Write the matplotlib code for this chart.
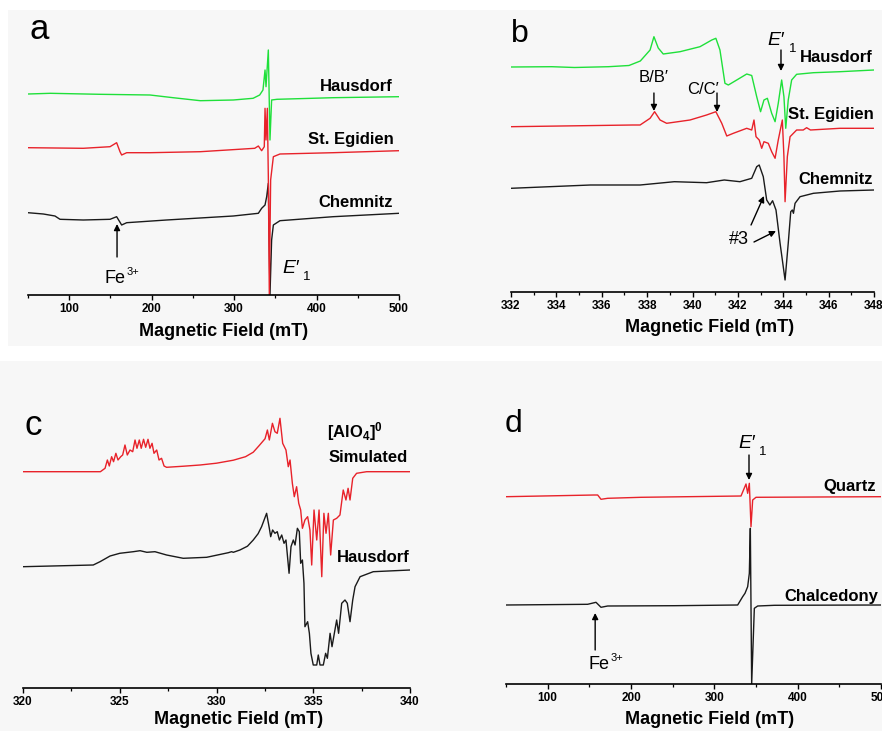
import matplotlib
matplotlib.use("Agg")
import matplotlib.pyplot as plt
from matplotlib.patches import Rectangle
import numpy as np

plt.rcParams['font.family'] = ['Liberation Sans', 'DejaVu Sans']
plt.rcParams['mathtext.fontset'] = 'custom'
plt.rcParams['mathtext.rm'] = 'Liberation Sans'
plt.rcParams['mathtext.it'] = 'Liberation Sans:italic'
plt.rcParams['mathtext.bf'] = 'Liberation Sans:bold'

# ---------------- data (field in mT, intensity in arbitrary units) ----------------
# panel a
a_haus_B = [50, 77, 137, 198, 226, 259, 299, 323, 331, 335, 337.5, 338.7, 341.5, 343.5, 345.5, 352, 420, 500]
a_haus_I = [0, 0.7, -0.3, -1, -3.7, -6.7, -6, -4.3, -1, 4, 24, 7.3, 44, -46, -6, -5.3, -3.7, -2.7]
a_egid_B = [50, 117, 149.5, 157.5, 161.6, 163.6, 169.7, 198, 259, 325, 329.4, 333.4, 336.6, 337.5, 338.7,
            340.3, 341.5, 342.7, 344.3, 347.6, 355.6, 420, 500]
a_egid_I = [0.3, -0.3, 1.3, 5.3, -3.7, -7, -4.7, -4.7, -3.7, -0.3, 2, -2.7, 1.3, 39.7, 8,
            39.7, -28.7, -147, -32, -8.7, -6, -4.7, -2.7]
a_chem_B = [50, 68.6, 82.7, 88.8, 117, 149.5, 157.5, 163.6, 169.7, 218, 299, 329.4, 333.4, 337.5, 339.5,
            341.5, 343.5, 345.5, 347.6, 355.6, 420, 500]
a_chem_I = [0.3, -1, -3, -6.3, -7, -6.3, -3.7, -12, -9.7, -7, -3, -0.3, 4.7, 8, 16.3,
            29.7, -82, -27, -12, -7.7, -3.7, -0.3]

# panel b
b_haus_B = [332, 333.8, 334.8, 336.3, 337.2, 337.7, 338.13, 338.3, 338.49, 338.71, 339.45, 340.33, 340.85,
            341.03, 341.21, 341.43, 341.58, 341.95, 342.39, 342.61, 342.83, 343.0, 343.15, 343.3, 343.49,
            343.64, 343.78, 343.93, 344.03, 344.11, 344.22, 344.37, 344.59, 345.33, 346.5, 348]
b_haus_I = [0, 0.3, -0.5, 0.3, 1.5, 6, 17, 30.3, 19, 13, 15.3, 20.3, 27,
            28.7, 17, -16.3, -18, -13, -7, -8.5, -29.7, -44.7, -33, -31.3, -46.3,
            -54.7, -36.3, -13, -29.7, -61.3, -33, -13, -7.3, -5.7, -4.7, -3]
b_egid_B = [332, 337.36, 337.69, 338.13, 338.33, 338.57, 338.86, 339.89, 340.62, 341.03, 341.29, 341.51,
            341.8, 342.39, 342.61, 342.71, 342.8, 342.94, 343.05, 343.15, 343.34, 343.49, 343.64, 343.78,
            343.96, 344.03, 344.08, 344.18, 344.3, 344.59, 344.88, 345.03, 345.2, 346.5, 348]
b_egid_I = [0, 1.7, 1.7, 8.4, 15, 6.7, 3.4, 6.7, 11.7, 15, 3.4, -9.3,
            -6.6, -1.6, -3.3, 6.7, -10, -13.3, -21.6, -15, -16.6, -25, -31.6, -13.3,
            6.7, -30, -75, -30, -10, -3.3, -3.3, -1, -3.3, -1.6, -1.6]
b_chem_B = [332, 335.5, 337.69, 339.2, 340.62, 341.4, 342.09, 342.61, 342.83, 342.94, 343.12, 343.27,
            343.41, 343.53, 343.68, 343.86, 344.08, 344.22, 344.33, 344.4, 344.45, 344.52, 344.74,
            345.33, 346.5, 348]
b_chem_I = [0, 3.3, 3.3, 6.6, 5.6, 8.3, 6.6, 10, 21.6, 23.3, 11.6, -11.7,
            -16.7, -12.4, -21.7, -55, -91.7, -55, -23.4, -21.7, -25, -15, -8.4,
            -5, -2.7, -1.7]

# panel c
c_sim_B = [320, 324.0, 324.24, 324.36, 324.46, 324.58, 324.68, 324.80, 324.91, 325.05, 325.15, 325.27,
           325.39, 325.53, 325.67, 325.79, 325.89, 326.01, 326.11, 326.23, 326.34, 326.46, 326.56, 326.67,
           326.77, 326.91, 327.03, 327.16, 327.29, 327.42, 328.3, 329.15, 330.0, 330.87, 331.5, 331.9,
           332.2, 332.51, 332.63,
           332.73, 332.89, 333.02, 333.14, 333.28, 333.42, 333.59, 333.71, 333.80, 333.92, 334.02, 334.14,
           334.25, 334.35, 334.44, 334.57, 334.71, 334.83, 334.92, 335.04, 335.18, 335.30, 335.44, 335.55,
           335.66, 335.78, 335.90, 336.04, 336.21, 336.38, 336.55, 336.69, 336.80, 336.90, 337.04, 337.24,
           337.76, 340]
c_sim_I = [0, 0, 3.4, 11.7, 5.7, 15, 10, 18.4, 11.7, 15, 16.7, 26.7,
           16.7, 21.7, 20, 31.7, 23.4, 31.7, 23.4, 32.4, 24.4, 32.4, 23.4, 28.4,
           18.4, 21.7, 11.7, 13.4, 5.7, 4.4, 5.5, 6.7, 8.5, 11.5, 15, 19.5,
           26, 33, 41.7,
           31.7, 48.4, 40, 38.4, 53.4, 28.4, 21.7, 5, 11.7, -11.6, -25, -15,
           -31.6, -38.3, -56.6, -48.3, -45, -58.3, -93.3, -38.3, -68.3, -38.3, -105, -41.6,
           -61.6, -41.6, -83.3, -48.3, -46.6, -43.3, -18.3, -28.3, -16.6, -28.3, -6.6, -1.6,
           0, 0]
c_haus_B = [320, 323.63, 323.98, 324.5, 325.0, 325.7, 326.05, 326.4, 326.82, 327.42, 328.28, 329.49,
            330.61, 330.78, 330.87, 331.21, 331.6, 331.9, 332.15, 332.33, 332.59, 332.73, 332.8, 332.9,
            333.02, 333.14,
            333.25, 333.37, 333.49, 333.59, 333.75, 333.85, 333.97, 334.06, 334.18, 334.28, 334.35, 334.44,
            334.52, 334.57, 334.71, 334.8, 334.88, 335.0, 335.18, 335.26, 335.35, 335.52, 335.64, 335.73,
            335.87, 335.97, 336.21, 336.31, 336.47, 336.64, 336.76, 336.9, 337.04, 337.16, 337.42, 338.1, 340]
c_haus_I = [0, 1.7, 5, 10.7, 13.4, 15, 16, 14.4, 15, 11.7, 8.4, 9.4,
            14, 15, 14.4, 16.7, 20.5, 26.7, 33, 40, 53.4, 38.4, 30, 36.7,
            33.4, 35,
            26.7, 31.7, 23.4, 26.7, -6.6, 20, 26.7, 21.7, 38.4, 35, 3.4, 6.7,
            -16.6, -60, -55, -66.6, -86.6, -98.3, -98.3, -88.3, -98.3, -98.3, -86.6, -91.6,
            -66.6, -80, -53.3, -66.6, -36.6, -33.3, -36.6, -55, -33.3, -20, -10, -5, -3.3]

# panel d
d_qtz_B = [50, 156, 160, 164, 172, 212, 332, 338, 340, 342, 344, 346, 350, 500]
d_qtz_I = [0, 1.7, 1.7, -2.6, -1.6, -0.6, 0.7, 12.7, 3.4, 13.4, -30, -3.3, -0.6, 0]
d_chal_B = [50, 148, 158, 164, 172, 252, 328, 334, 336.8, 340, 342, 343.2, 344.8, 348, 352, 372, 500]
d_chal_I = [0, 0.7, 2.7, -2.3, -1, -0.7, 0, 8.3, 11.7, 18.3, 31.7, 76.7, -79, -3.3, -1, -0.3, 0]

W, H = 882, 731
fig = plt.figure(figsize=(W / 100, H / 100), dpi=100)
fig.patch.set_facecolor('white')
bg = '#f7f7f7'
fig.add_artist(Rectangle((8 / W, 1 - 346 / H), (W - 8) / W, 336 / H, transform=fig.transFigure,
                         facecolor=bg, edgecolor='none', zorder=-10))
fig.add_artist(Rectangle((0, 0), 1, 1 - 361 / H, transform=fig.transFigure,
                         facecolor=bg, edgecolor='none', zorder=-10))

GREEN = '#1fe03a'
RED = '#e8222a'
BLACK = '#1a1a1a'
LW = 1.0


def make_ax(px_left, px_right, px_axis, px_top, xlim, ylim, majors, minors):
    ax = fig.add_axes([px_left / W, 1 - px_axis / H, (px_right - px_left) / W, (px_axis - px_top) / H])
    ax.set_facecolor('none')
    for s in ['left', 'right', 'top']:
        ax.spines[s].set_visible(False)
    ax.spines['bottom'].set_linewidth(1.2)
    ax.set_xlim(*xlim)
    ax.set_ylim(*ylim)
    ax.set_yticks([])
    ax.set_xticks(majors)
    ax.set_xticks(minors, minor=True)
    ax.tick_params(axis='x', which='major', direction='out', length=3.5, width=1.0, pad=2.5,
                   labelsize=8.5)
    ax.tick_params(axis='x', which='minor', direction='out', length=2.5, width=0.9)
    for lab in ax.get_xticklabels():
        lab.set_fontweight('bold')
    return ax


def xlabel(px_x, px_y):
    fig.text(px_x / W, 1 - px_y / H, 'Magnetic Field (mT)', ha='center', va='center',
             fontsize=13, fontweight='bold')


def arrow(ax, x0, y0, x1, y1):
    ax.annotate('', xy=(x1, y1), xytext=(x0, y0),
                arrowprops=dict(arrowstyle='-|>', color='black', lw=1.0, mutation_scale=9,
                                shrinkA=0, shrinkB=0), annotation_clip=False)


def eprime(ax, x, y, xs, ys, size=14):
    ax.text(x, y, 'E\u2032', fontsize=size, style='italic', ha='left', va='baseline')
    ax.text(xs, ys, '1', fontsize=9.5, ha='left', va='baseline')


def fe3(ax, x, y, xs, ys):
    ax.text(x, y, 'Fe', fontsize=13, ha='left', va='baseline')
    ax.text(xs, ys, '3+', fontsize=8, ha='left', va='baseline')


# ---------------- panel a ----------------
ax = make_ax(28, 399, 295, 10, (50, 500), (0, 285), [100, 200, 300, 400, 500],
             [50, 150, 250, 350, 450])
ax.plot(a_chem_B, np.array(a_chem_I) + 82, color=BLACK, lw=LW)
ax.plot(a_egid_B, np.array(a_egid_I) + 147, color=RED, lw=LW)
ax.plot(a_haus_B, np.array(a_haus_I) + 201, color=GREEN, lw=LW)
ax.text(52, 256, 'a', fontsize=25, ha='left', va='baseline')
ax.text(492.7, 209, 'Hausdorf', fontsize=12, fontweight='bold', ha='right', va='center')
ax.text(493.5, 156, 'St. Egidien', fontsize=12, fontweight='bold', ha='right', va='center')
ax.text(492.7, 93, 'Chemnitz', fontsize=12, fontweight='bold', ha='right', va='center')
arrow(ax, 158, 38, 158, 71)
fe3(ax, 143, 12, 170, 20)
eprime(ax, 358, 22, 383, 15)
xlabel(224, 331)

# ---------------- panel b ----------------
ax = make_ax(511, 874, 292, 10, (332, 348), (0, 282), list(range(332, 349, 2)),
             list(range(333, 348, 2)))
ax.plot(b_chem_B, np.array(b_chem_I) + 103.7, color=BLACK, lw=LW)
ax.plot(b_egid_B, np.array(b_egid_I) + 165.3, color=RED, lw=LW)
ax.plot(b_haus_B, np.array(b_haus_I) + 225, color=GREEN, lw=LW)
ax.text(332.0, 250, 'b', fontsize=23, ha='left', va='baseline')
ax.text(347.94, 234, 'Hausdorf', fontsize=12, fontweight='bold', ha='right', va='center')
ax.text(347.98, 177, 'St. Egidien', fontsize=12, fontweight='bold', ha='right', va='center')
ax.text(347.94, 113, 'Chemnitz', fontsize=12, fontweight='bold', ha='right', va='center')
ax.text(338.3, 214, 'B/B\u2032', fontsize=12, ha='center', va='center')
arrow(ax, 338.3, 199, 338.3, 181)
ax.text(340.45, 203, 'C/C\u2032', fontsize=12, ha='center', va='center')
arrow(ax, 341.08, 199, 341.08, 180)
eprime(ax, 343.31, 247, 344.25, 240)
arrow(ax, 343.9, 242, 343.9, 221)
ax.text(342.06, 52, '#3', fontsize=13, ha='center', va='center')
arrow(ax, 342.58, 67, 343.15, 96)
arrow(ax, 342.71, 50, 343.68, 61)
xlabel(710, 328)

# ---------------- panel c ----------------
ax = make_ax(23, 410, 688, 370, (320, 340), (0, 318), [320, 325, 330, 335, 340],
             [322.5, 327.5, 332.5, 337.5])
ax.plot(c_haus_B, np.array(c_haus_I) + 121.3, color=BLACK, lw=LW)
ax.plot(c_sim_B, np.array(c_sim_I) + 216.3, color=RED, lw=LW)
ax.text(320.1, 253, 'c', fontsize=25, ha='left', va='baseline')
ax.text(335.7, 251, r'$\mathbf{[AlO}_{\mathbf{4}}\mathbf{]}^{\mathbf{0}}$', fontsize=12,
        ha='left', va='baseline')
ax.text(339.9, 231, 'Simulated', fontsize=12, fontweight='bold', ha='right', va='center')
ax.text(339.96, 131, 'Hausdorf', fontsize=12, fontweight='bold', ha='right', va='center')
xlabel(239, 720)

# ---------------- panel d ----------------
ax = make_ax(506, 881, 684, 370, (50, 500), (0, 314), [100, 200, 300, 400, 500],
             [50, 150, 250, 350, 450])
ax.plot(d_chal_B, np.array(d_chal_I) + 79, color=BLACK, lw=LW)
ax.plot(d_qtz_B, np.array(d_qtz_I) + 187.3, color=RED, lw=LW)
ax.text(48, 252, 'd', fontsize=23, ha='left', va='baseline')
eprime(ax, 329.2, 236, 354, 229)
arrow(ax, 341.6, 229, 341.6, 204)
ax.text(494, 198, 'Quartz', fontsize=12, fontweight='bold', ha='right', va='center')
ax.text(496.8, 88, 'Chalcedony', fontsize=12, fontweight='bold', ha='right', va='center')
arrow(ax, 157, 34, 157, 71)
fe3(ax, 148.8, 15, 176, 23)
xlabel(710, 720)

fig.savefig('out.png', dpi=100, facecolor='white')
